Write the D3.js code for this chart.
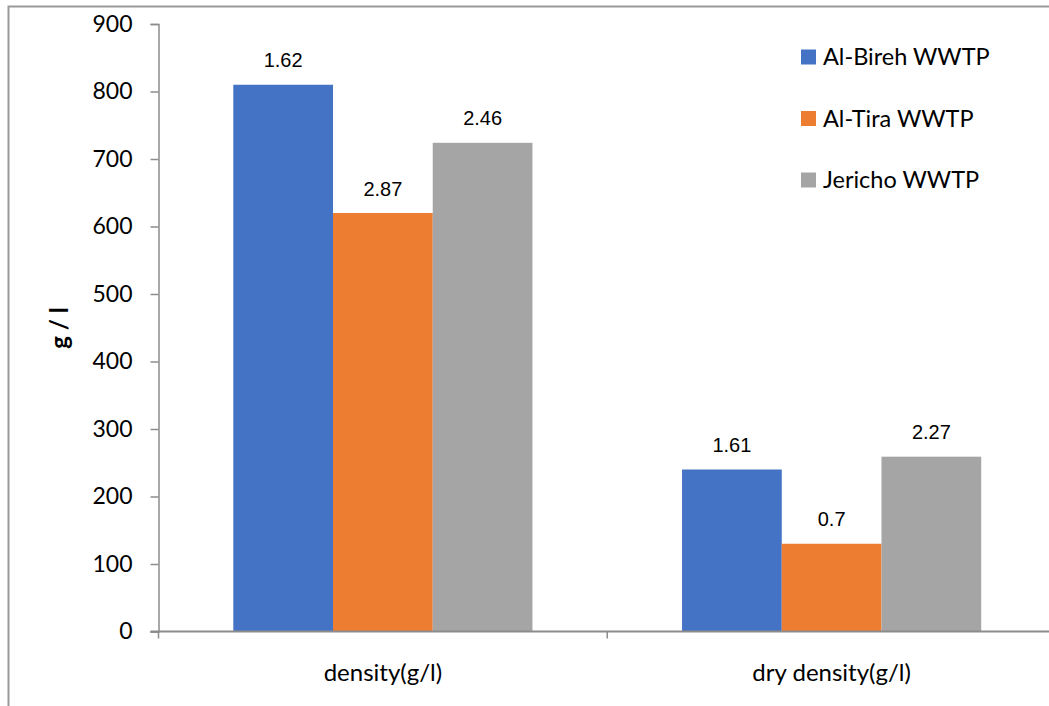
<!DOCTYPE html>
<html>
<head>
<meta charset="utf-8">
<script src="https://cdn.jsdelivr.net/npm/d3@7"></script>
<style>
  html, body { margin: 0; padding: 0; background: #fff; }
  svg { display: block; }
</style>
</head>
<body>
<svg id="chart" width="1049" height="706"></svg>
<script>
// Sludge density per treatment plant (g/l)
const categories = ["density(g/l)", "dry density(g/l)"];
const seriesNames = ["Al-Bireh WWTP", "Al-Tira WWTP", "Jericho WWTP"];
const alBireh = [810, 240];
const alTira = [620, 130];
const jericho = [724, 259];
// Annotation printed above each bar
const alBirehNotes = ["1.62", "1.61"];
const alTiraNotes = ["2.87", "0.7"];
const jerichoNotes = ["2.46", "2.27"];
const yTicks = [0, 100, 200, 300, 400, 500, 600, 700, 800, 900];
const colors = ["#4472C4", "#ED7D31", "#A5A5A5"];

const values = [alBireh, alTira, jericho];
const notes = [alBirehNotes, alTiraNotes, jerichoNotes];

const svg = d3.select("#chart");
const axisColor = "#8c8c8c";
const tickFont = "Lato, 'Open Sans', sans-serif";

// outer frame
svg.append("path")
  .attr("d", "M8.5,706 L8.5,6.5 L1049,6.5")
  .attr("fill", "none")
  .attr("stroke", "#9a9a9a")
  .attr("stroke-width", 2);

const plot = { left: 158.5, right: 1056, top: 24, bottom: 631.5 };

const x = d3.scaleBand().domain(categories).range([plot.left, plot.right]).padding(0);
const xs = d3.scaleBand().domain(seriesNames).range([0, x.bandwidth()])
  .paddingInner(0).paddingOuter(0.75);
const y = d3.scaleLinear().domain([0, 900]).range([plot.bottom, plot.top]);

// bars
seriesNames.forEach((name, si) => {
  const g = svg.append("g");
  g.selectAll("rect").data(categories).join("rect")
    .attr("x", c => x(c) + xs(name))
    .attr("y", (c, i) => y(values[si][i]))
    .attr("width", xs.bandwidth())
    .attr("height", (c, i) => y(0) - y(values[si][i]))
    .attr("fill", colors[si]);
  g.selectAll("text").data(categories).join("text")
    .attr("x", c => x(c) + xs(name) + xs.bandwidth() / 2)
    .attr("y", (c, i) => y(values[si][i]) - 17.5)
    .attr("text-anchor", "middle")
    .attr("font-family", "'Liberation Sans', Arial, sans-serif")
    .attr("font-size", 20)
    .attr("fill", "#000")
    .text((c, i) => notes[si][i]);
});

// y axis
const yAxis = d3.axisLeft(y).tickValues(yTicks).tickSize(8).tickPadding(18).tickFormat(d3.format("d"));
const gy = svg.append("g").attr("transform", `translate(${plot.left},0)`).call(yAxis);
gy.select(".domain").attr("stroke", axisColor).attr("stroke-width", 1.5);
gy.selectAll(".tick line").attr("stroke", axisColor).attr("stroke-width", 1.5);
gy.selectAll(".tick text")
  .attr("font-family", tickFont).attr("font-size", 23).attr("fill", "#000");

// x axis line with category boundary ticks
svg.append("line")
  .attr("x1", plot.left - 8).attr("x2", 1049)
  .attr("y1", y(0)).attr("y2", y(0))
  .attr("stroke", axisColor).attr("stroke-width", 2);
svg.selectAll(".xtick").data(categories).join("line")
  .attr("class", "xtick")
  .attr("x1", c => x(c)).attr("x2", c => x(c))
  .attr("y1", y(0)).attr("y2", y(0) + 7)
  .attr("stroke", axisColor).attr("stroke-width", 1.5);
svg.selectAll(".xlabel").data(categories).join("text")
  .attr("class", "xlabel")
  .attr("x", c => x(c) + x.bandwidth() / 2)
  .attr("y", 681)
  .attr("text-anchor", "middle")
  .attr("font-family", tickFont)
  .attr("font-size", 24)
  .attr("fill", "#000")
  .text(c => c);

// y axis title
svg.append("text")
  .attr("transform", "translate(68,328) rotate(-90)")
  .attr("text-anchor", "middle")
  .attr("font-family", tickFont)
  .attr("font-weight", "bold")
  .attr("font-size", 24)
  .attr("fill", "#000")
  .text("g / l");

// legend
const legend = svg.append("g");
seriesNames.forEach((name, i) => {
  const cy = 57 + i * 61.5;
  legend.append("rect")
    .attr("x", 801).attr("y", cy - 7.5)
    .attr("width", 15).attr("height", 15)
    .attr("fill", colors[i]);
  legend.append("text")
    .attr("x", 823).attr("y", cy + 8)
    .attr("font-family", tickFont)
    .attr("font-size", 23.5)
    .attr("fill", "#000")
    .text(name);
});
</script>
</body>
</html>
